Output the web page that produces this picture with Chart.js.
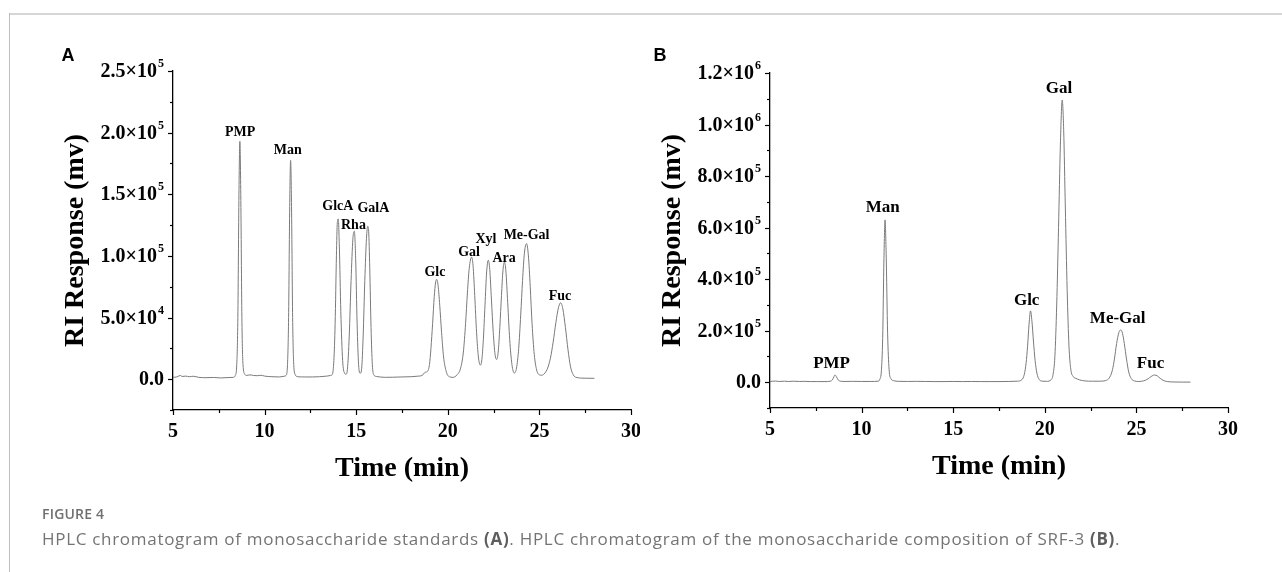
<!DOCTYPE html>
<html>
<head>
<meta charset="utf-8">
<script src="https://cdn.jsdelivr.net/npm/chart.js@4.4.1/dist/chart.umd.min.js"></script>
<style>
  html, body { margin: 0; padding: 0; background: #fff; }
  body { width: 1282px; height: 572px; position: relative; overflow: hidden; }
  .wrap { position: absolute; top: 0; height: 572px; }
  #wrapA { left: 0; width: 640px; }
  #wrapB { left: 640px; width: 642px; }
  #topline { position: absolute; left: 9px; top: 13px; width: 1273px; height: 2px; background: #d6d6d6; }
  #leftline { position: absolute; left: 9px; top: 13px; width: 1px; height: 559px; background: #bdbdbd; }
  .fig { position: absolute; left: 42px; font-family: "Open Sans", sans-serif; color: #747474; white-space: nowrap; line-height: 1; }
  #figlabel { top: 507px; font-size: 14px; font-weight: 600; color: #707070; letter-spacing: 0.2px; }
  #caption { top: 530px; font-size: 17px; letter-spacing: 0.7px; }
  #caption b { font-weight: 700; color: #5e5e5e; }
</style>
</head>
<body>
<div id="topline"></div>
<div id="leftline"></div>
<div class="wrap" id="wrapA"><canvas id="chartA"></canvas></div>
<div class="wrap" id="wrapB"><canvas id="chartB"></canvas></div>
<div class="fig" id="figlabel">FIGURE 4</div>
<div class="fig" id="caption">HPLC chromatogram of monosaccharide standards <b>(A)</b>. HPLC chromatogram of the monosaccharide composition of SRF-3 <b>(B)</b>.</div>
<script>
// ---------- Panel A: monosaccharide standards ----------
const timeA = [5.0,5.2,5.4,5.5,5.7,5.9,6.1,6.4,6.8,7.2,7.6,8.0,8.3,
  8.40,8.48,8.54,8.60,8.65,8.70,8.76,8.82,8.92,9.0,
  9.2,9.4,9.6,9.8,10.0,10.4,10.8,11.1,
  11.17,11.25,11.31,11.37,11.42,11.47,11.53,11.59,11.68,11.8,12.2,12.6,13.0,13.4,13.6,
  13.7,13.78,13.85,13.92,13.97,14.02,14.08,14.16,14.26,14.36,14.44,
  14.52,14.62,14.72,14.82,14.9,14.97,15.05,15.13,15.22,15.3,
  15.38,15.47,15.56,15.63,15.68,15.74,15.81,15.88,15.96,16.1,16.6,17.0,17.5,18.0,18.4,18.6,18.75,18.9,
  19.0,19.08,19.17,19.26,19.33,19.39,19.47,19.56,19.66,19.77,19.9,20.03,20.3,
  20.5,20.7,20.85,20.97,21.07,21.17,21.3,21.38,21.47,21.57,21.67,21.78,
  21.86,21.94,22.03,22.12,22.21,22.29,22.38,22.48,22.58,22.67,
  22.75,22.84,22.93,23.01,23.09,23.17,23.27,23.38,23.5,23.63,
  23.75,23.87,23.98,24.08,24.18,24.3,24.4,24.5,24.6,24.72,24.85,25.0,25.13,25.3,25.45,
  25.6,25.75,25.9,26.04,26.16,26.28,26.42,26.56,26.7,26.85,27.0,27.5,28.0];
const signalA = [1500,1800,3000,2200,2500,2000,2400,1500,1200,1400,1000,1300,1500,
  3000,12000,50000,150000,193000,150000,50000,12000,4000,3000,
  3500,3000,2800,3200,2500,2000,1800,2500,
  3000,12000,50000,140000,177500,140000,50000,12000,3500,2000,1800,1800,2000,2500,3000,
  4000,15000,45000,100000,127000,130000,108000,55000,15000,5000,4000,
  8000,35000,80000,114000,120000,98000,45000,12000,4800,9000,
  35000,80000,114000,124000,120000,90000,42000,12000,3500,2200,1500,1600,1800,2000,2500,3000,5500,6500,
  12000,25000,45000,67000,78000,81000,76000,60000,38000,18000,7000,2500,1500,
  3500,9000,22000,45000,70000,90000,99000,92000,68000,38000,18000,11400,
  16000,32000,60000,87000,96500,89000,65000,38000,20000,16000,
  22000,42000,68000,88000,95000,88000,62000,32000,12000,5000,
  9000,25000,52000,80000,102000,110000,100000,75000,45000,20000,7500,3500,3200,5000,9000,
  17000,30000,46000,58000,62000,57000,42000,24000,10000,3500,1500,800,700];
const peakNamesA = ['PMP','Man','GlcA','Rha','GalA','Glc','Gal','Xyl','Ara','Me-Gal','Fuc'];
const peakLabelXA = [8.66,11.27,14.0,14.85,15.94,19.3,21.16,22.08,23.07,24.3,26.12];
const peakLabelYA = [200000,186000,140000,125000,138500,87000,103000,113000,98000,116300,67500];
const yTicksA = [[250000,'2.5×10','5'],[200000,'2.0×10','5'],[150000,'1.5×10','5'],[100000,'1.0×10','5'],[50000,'5.0×10','4'],[0,'0.0','']];

// ---------- Panel B: SRF-3 ----------
const timeB = [5.0,5.3,5.5,5.8,6.0,6.3,6.6,6.9,7.2,7.6,8.0,8.3,
  8.4,8.48,8.55,8.62,8.72,8.85,9.1,9.5,10.0,10.5,10.9,
  11.0,11.08,11.15,11.22,11.28,11.34,11.42,11.5,11.6,11.75,12.0,12.5,13.0,13.5,14.0,14.5,15.0,15.5,16.0,16.5,17.0,17.5,18.0,18.5,18.75,
  18.88,18.98,19.06,19.14,19.22,19.3,19.38,19.47,19.57,19.7,19.9,20.1,20.35,
  20.45,20.55,20.65,20.75,20.85,20.95,21.03,21.12,21.22,21.32,21.42,21.55,21.7,21.9,22.2,22.6,23.0,23.3,23.55,
  23.7,23.8,23.92,24.04,24.14,24.24,24.34,24.46,24.58,24.72,24.9,25.1,25.3,25.5,
  25.65,25.8,25.99,26.15,26.3,26.5,26.7,27.0,27.5,27.95];
const signalB = [3000,4500,3000,4000,3000,4000,3000,3500,2500,2500,2500,4000,
  9000,20000,28000,22000,9000,4000,3000,3500,3000,3000,4000,
  12000,45000,170000,480000,630000,500000,190000,50000,14000,6000,3500,3000,3500,3000,2500,2500,3000,2500,3000,2500,2500,2500,3000,4000,10000,
  30000,75000,140000,225000,277000,235000,160000,85000,35000,10000,4000,3500,10000,
  30000,100000,300000,600000,920000,1095000,980000,680000,360000,140000,50000,22000,15000,9000,5000,4000,4000,6000,20000,
  50000,90000,150000,192000,203000,190000,150000,90000,40000,14000,5000,3000,4000,8000,
  14000,22000,28000,24000,15000,6000,2500,1000,500,500];
const peakNamesB = ['PMP','Man','Glc','Gal','Me-Gal','Fuc'];
const peakLabelXB = [8.36,11.15,19.01,20.78,23.98,25.77];
const peakLabelYB = [74000,676000,317000,1138000,246000,71000];
const yTicksB = [[1200000,'1.2×10','6'],[1000000,'1.0×10','6'],[800000,'8.0×10','5'],[600000,'6.0×10','5'],[400000,'4.0×10','5'],[200000,'2.0×10','5'],[0,'0.0','']];

const xTickLabels = ['5','10','15','20','25','30'];

const SERIF = '"Liberation Serif", "Times New Roman", serif';

function decorPlugin(cfg) {
  return {
    id: 'decor' + cfg.panel,
    afterDraw(chart) {
      const ctx = chart.ctx;
      const xs = chart.scales.x, ys = chart.scales.y;
      const area = chart.chartArea;
      ctx.save();
      ctx.strokeStyle = '#000';
      ctx.lineWidth = 1.2;
      // y ticks (outward)
      ys.ticks.forEach(t => {
        const v = t.value;
        if (v < ys.min) return;
        const py = Math.round(ys.getPixelForValue(v)) + 0.5;
        const major = Math.abs(v % cfg.yMajor) < 1e-6;
        const len = major ? 5 : 3;
        ctx.beginPath(); ctx.moveTo(area.left, py); ctx.lineTo(area.left - len, py); ctx.stroke();
      });
      // x ticks (outward)
      xs.ticks.forEach(t => {
        const v = t.value;
        const px = Math.round(xs.getPixelForValue(v)) + 0.5;
        const major = Math.abs(v % 5) < 1e-6;
        const len = major ? 5 : 3;
        ctx.beginPath(); ctx.moveTo(px, area.bottom); ctx.lineTo(px, area.bottom + len); ctx.stroke();
      });
      ctx.fillStyle = '#000';
      // y tick labels with superscripts
      cfg.yTicks.forEach(([v, base, sup]) => {
        const py = ys.getPixelForValue(v);
        const right = area.left - 9;
        ctx.font = 'bold 20px ' + SERIF;
        const wb = ctx.measureText(base).width;
        ctx.font = 'bold 12px ' + SERIF;
        const ws = sup ? ctx.measureText(sup).width + 1 : 0;
        ctx.textBaseline = 'middle';
        ctx.textAlign = 'left';
        ctx.font = 'bold 20px ' + SERIF;
        ctx.fillText(base, right - wb - ws, py + 1);
        if (sup) {
          ctx.font = 'bold 12px ' + SERIF;
          ctx.fillText(sup, right - ws + 1, py - 7);
        }
      });
      // x tick labels
      ctx.font = 'bold 20px ' + SERIF;
      ctx.textAlign = 'center';
      ctx.textBaseline = 'middle';
      xTickLabels.forEach(s => {
        const px = xs.getPixelForValue(parseFloat(s));
        ctx.fillText(s, px, area.bottom + 22);
      });
      // axis titles
      ctx.font = 'bold 28px ' + SERIF;
      ctx.fillText('Time (min)', (area.left + area.right) / 2, area.bottom + 59);
      ctx.save();
      ctx.translate(area.left - 97, (area.top + area.bottom) / 2);
      ctx.rotate(-Math.PI / 2);
      ctx.fillText('RI Response (mv)', 0, 0);
      ctx.restore();
      // peak labels
      ctx.font = 'bold ' + cfg.peakFont + 'px ' + SERIF;
      cfg.names.forEach((n, i) => {
        ctx.fillText(n, xs.getPixelForValue(cfg.lx[i]), ys.getPixelForValue(cfg.ly[i]));
      });
      // panel letter
      ctx.font = 'bold 18px "Liberation Sans", Arial, sans-serif';
      ctx.fillText(cfg.panel, cfg.letterX, 56);
      ctx.restore();
    }
  };
}

function makeChart(id, cfg) {
  const pts = cfg.t.map((t, i) => ({ x: t, y: cfg.s[i] }));
  return new Chart(document.getElementById(id), {
    type: 'line',
    data: { datasets: [{ data: pts, borderColor: '#7a7a7a', borderWidth: 1, pointRadius: 0,
      cubicInterpolationMode: 'monotone', fill: false }] },
    options: {
      responsive: true, maintainAspectRatio: false, animation: false,
      layout: { padding: { top: cfg.top, right: cfg.right, left: 0, bottom: 0 } },
      plugins: { legend: { display: false }, tooltip: { enabled: false } },
      scales: {
        x: { type: 'linear', min: 5, max: 30,
          ticks: { stepSize: 2.5, display: false },
          grid: { display: false },
          border: { display: true, color: '#000', width: 1.3 },
          afterFit: s => { s.height = cfg.xh; } },
        y: { type: 'linear', min: cfg.ymin, max: cfg.ymax,
          ticks: { stepSize: cfg.yMinor, display: false },
          grid: { display: false },
          border: { display: true, color: '#000', width: 1.3 },
          afterFit: s => { s.width = cfg.yw; } }
      }
    },
    plugins: [decorPlugin(cfg)]
  });
}

makeChart('chartA', { panel: 'A', t: timeA, s: signalA, top: 71, right: 9, xh: 162, yw: 173,
  ymin: -25000, ymax: 250000, yMinor: 25000, yMajor: 50000, yTicks: yTicksA,
  names: peakNamesA, lx: peakLabelXA, ly: peakLabelYA, peakFont: 14, letterX: 68 });
makeChart('chartB', { panel: 'B', t: timeB, s: signalB, top: 73, right: 54, xh: 164, yw: 130,
  ymin: -100000, ymax: 1200000, yMinor: 100000, yMajor: 200000, yTicks: yTicksB,
  names: peakNamesB, lx: peakLabelXB, ly: peakLabelYB, peakFont: 17, letterX: 20 });
</script>
</body>
</html>
